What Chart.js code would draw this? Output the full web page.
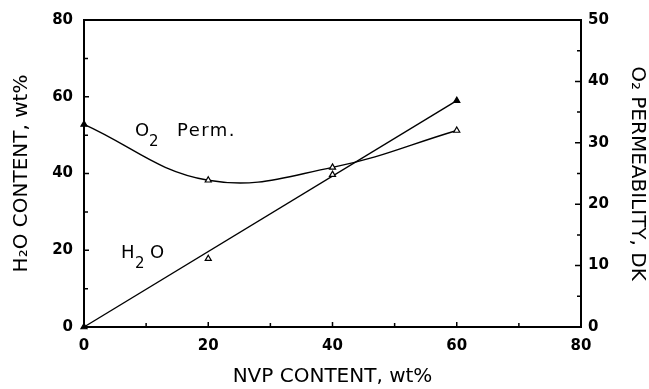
<!DOCTYPE html>
<html>
<head>
<meta charset="utf-8">
<script src="https://cdn.jsdelivr.net/npm/chart.js@4"></script>
<style>
  html, body { margin: 0; padding: 0; background: #fff; }
  #wrap { width: 649px; height: 389px; }
</style>
</head>
<body>
<div id="wrap"><canvas id="c" width="649" height="389"></canvas></div>
<script>
// ---- data ----
const NVP = [0, 20, 40, 60];               // NVP content, wt%
const H2O = [0, 17.8, 39.7, 59];           // H2O content, wt% (left axis)
const O2_PERM = [33, 23.9, 26, 32];        // O2 permeability, DK (right axis)
const H2O_FIT_X = [0, 60];                 // straight fitted line through H2O points
const H2O_FIT_Y = [0, 59];
const X_TICKS = [0, 20, 40, 60, 80];
const Y_TICKS = [0, 20, 40, 60, 80];
const Y2_TICKS = [0, 10, 20, 30, 40, 50];

const H2O_FILLED = [true, false, false, true];
const O2_FILLED = [true, false, false, false];

const toPts = (xs, ys) => xs.map((x, i) => ({x: x, y: ys[i]}));

const PLOT = {left: 84, right: 581, top: 19, bottom: 327, W: 649, H: 389};

const frameTicks = {
  id: 'frameTicks',
  afterDraw(chart) {
    const ctx = chart.ctx;
    const a = chart.chartArea;
    const sx = chart.scales.x, sy = chart.scales.y, sy2 = chart.scales.y2;
    ctx.save();
    ctx.strokeStyle = '#000';
    ctx.lineWidth = 2;
    ctx.strokeRect(a.left, a.top, a.right - a.left, a.bottom - a.top);
    ctx.lineWidth = 1.5;
    ctx.beginPath();
    for (let v = 10; v < 80; v += 10) {
      const px = sx.getPixelForValue(v);
      const len = v % 20 === 0 ? 5 : 4;
      ctx.moveTo(px, a.bottom); ctx.lineTo(px, a.bottom - len);
      const py = sy.getPixelForValue(v);
      ctx.moveTo(a.left, py); ctx.lineTo(a.left + len, py);
    }
    for (let v = 5; v < 50; v += 5) {
      const py = sy2.getPixelForValue(v);
      const len = v % 10 === 0 ? 6 : 4;
      ctx.moveTo(a.right, py); ctx.lineTo(a.right - len, py);
    }
    ctx.stroke();
    ctx.restore();
  }
};

const inLabels = {
  id: 'inLabels',
  afterDraw(chart) {
    const ctx = chart.ctx;
    const sx = chart.scales.x, sy = chart.scales.y;
    const items = [
      {x: 8.2, y: 49.9, parts: [['O', 0, 0], ['2', 1, 14], ['Perm.', 0, 42]]},
      {x: 5.96, y: 17.9, parts: [['H', 0, 0], ['2', 1, 14], ['O', 0, 29]]}
    ];
    ctx.save();
    ctx.fillStyle = '#000';
    ctx.textBaseline = 'alphabetic';
    ctx.textAlign = 'left';
    ctx.letterSpacing = '1.5px';
    items.forEach(it => {
      const px = sx.getPixelForValue(it.x);
      const py = sy.getPixelForValue(it.y);
      it.parts.forEach(([t, sub, dx]) => {
        ctx.font = sub ? '15px "DejaVu Sans"' : '18px "DejaVu Sans"';
        ctx.fillText(t, px + dx, py + (sub ? 10 : 0));
      });
    });
    ctx.restore();
  }
};

const tickFont = {family: '"DejaVu Sans"', size: 15, weight: 'bold'};
const titleFont = {family: '"DejaVu Sans"', size: 20, weight: 'normal'};

new Chart(document.getElementById('c'), {
  type: 'scatter',
  data: {
    datasets: [
      {
        label: 'O2 Perm.',
        data: toPts(NVP, O2_PERM),
        yAxisID: 'y2',
        showLine: true,
        tension: 0.4,
        borderColor: '#000',
        borderWidth: 1.4,
        pointStyle: 'triangle',
        pointRadius: 3.5,
        pointBorderWidth: 1.2,
        pointBorderColor: '#000',
        pointBackgroundColor: O2_FILLED.map(f => f ? '#000' : '#fff'),
        clip: false
      },
      {
        label: 'H2O',
        data: toPts(NVP, H2O),
        yAxisID: 'y',
        showLine: false,
        pointStyle: 'triangle',
        pointRadius: 3.5,
        pointBorderWidth: 1.2,
        pointBorderColor: '#000',
        pointBackgroundColor: H2O_FILLED.map(f => f ? '#000' : '#fff'),
        clip: false
      },
      {
        label: 'H2O fit',
        data: toPts(H2O_FIT_X, H2O_FIT_Y),
        yAxisID: 'y',
        showLine: true,
        borderColor: '#000',
        borderWidth: 1.4,
        pointRadius: 0,
        clip: false
      }
    ]
  },
  options: {
    responsive: false,
    animation: false,
    devicePixelRatio: 1,
    layout: {padding: {top: PLOT.top, left: 0, right: 0, bottom: 0}},
    plugins: {legend: {display: false}, tooltip: {enabled: false}},
    scales: {
      x: {
        type: 'linear', min: 0, max: 80,
        afterBuildTicks: s => { s.ticks = X_TICKS.map(v => ({value: v})); },
        afterFit: s => { s.height = PLOT.H - PLOT.bottom; },
        grid: {display: false, drawTicks: false},
        border: {display: false},
        ticks: {color: '#000', font: tickFont, padding: 10, maxRotation: 0},
        title: {display: true, text: 'NVP CONTENT, wt%', color: '#000', font: titleFont, padding: {top: 0, bottom: 0}}
      },
      y: {
        type: 'linear', position: 'left', min: 0, max: 80,
        afterBuildTicks: s => { s.ticks = Y_TICKS.map(v => ({value: v})); },
        afterFit: s => { s.width = PLOT.left; },
        grid: {display: false, drawTicks: false},
        border: {display: false},
        ticks: {color: '#000', font: tickFont, padding: 11},
        title: {display: true, text: 'H\u2082O CONTENT, wt%', color: '#000', font: titleFont, padding: {top: 10, bottom: 0}}
      },
      y2: {
        type: 'linear', position: 'right', min: 0, max: 50,
        afterBuildTicks: s => { s.ticks = Y2_TICKS.map(v => ({value: v})); },
        afterFit: s => { s.width = PLOT.W - PLOT.right; },
        grid: {display: false, drawTicks: false},
        border: {display: false},
        ticks: {color: '#000', font: tickFont, padding: 7},
        title: {display: true, text: 'O\u2082 PERMEABILITY, DK', color: '#000', font: titleFont, padding: {top: 0, bottom: 0}}
      }
    }
  },
  plugins: [frameTicks, inLabels]
});
</script>
</body>
</html>
